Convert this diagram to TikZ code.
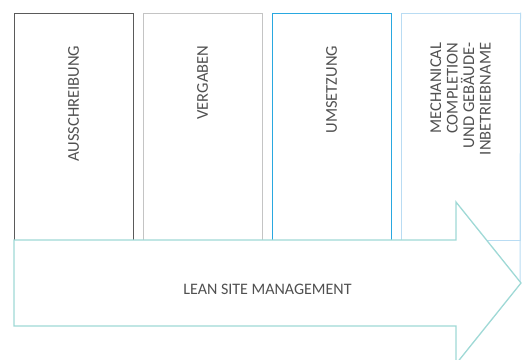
\documentclass[tikz,border=0pt]{standalone}
\usepackage{fontspec}
\setmainfont{Carlito}
\definecolor{darkline}{HTML}{5A5A5A}
\definecolor{greyline}{HTML}{C4C4C4}
\definecolor{blueline}{HTML}{29A8E0}
\definecolor{paleblue}{HTML}{B9DCF3}
\definecolor{teal}{HTML}{9FD9D6}
\definecolor{labelgrey}{HTML}{505050}
\begin{document}
\begin{tikzpicture}[x=1pt,y=-1pt,
		phase/.style={draw, line width=1pt, inner sep=0pt, minimum width=119pt, minimum height=227pt},
		vlabel/.style={rotate=90, anchor=east, inner sep=0pt, text=labelgrey, font=\fontsize{16.5}{16.5}\selectfont, align=right}]
		\useasboundingbox (0,0) rectangle (526,359);
		\clip (0,0) rectangle (526,359);
		\node [phase, draw=darkline] (ausschreibung) at (73.5,126.5) {};
		\node [phase, draw=greyline] (vergaben) at (202.5,126.5) {};
		\node [phase, draw=blueline] (umsetzung) at (331.5,126.5) {};
		\node [phase, draw=paleblue] (inbetriebnahme) at (460.5,126.5) {};
		\coordinate (T) at (520,282);
		\draw [paleblue, line width=1pt] (inbetriebnahme.north east) to (T);
		\coordinate (A) at (14,240);
		\coordinate (B) at (456,240);
		\coordinate (C) at (456,202);
		\coordinate (D) at (521,283);
		\coordinate (E) at (456,364);
		\coordinate (F) at (456,326);
		\coordinate (G) at (14,326);
		\draw [teal, line width=1.3pt, fill=white] (A) to (B) to (C) to (D) to (E) to (F) to (G) to cycle;
		\node [vlabel] (l1) at ([yshift=-33pt]ausschreibung.north) {AUSSCHREIBUNG};
		\node [vlabel] (l2) at ([yshift=-33pt]vergaben.north) {VERGABEN};
		\node [vlabel] (l3) at ([yshift=-33pt]umsetzung.north) {UMSETZUNG};
		\node [vlabel] (l4) at ([yshift=-30pt]inbetriebnahme.north) {MECHANICAL\\COMPLETION\\UND GEBÄUDE-\\INBETRIEBNAME};
		\node [text=labelgrey, font=\fontsize{16}{16}\selectfont, inner sep=0pt] (lsm) at (267.5,289) {LEAN SITE MANAGEMENT};
	\end{tikzpicture}
\end{document}
